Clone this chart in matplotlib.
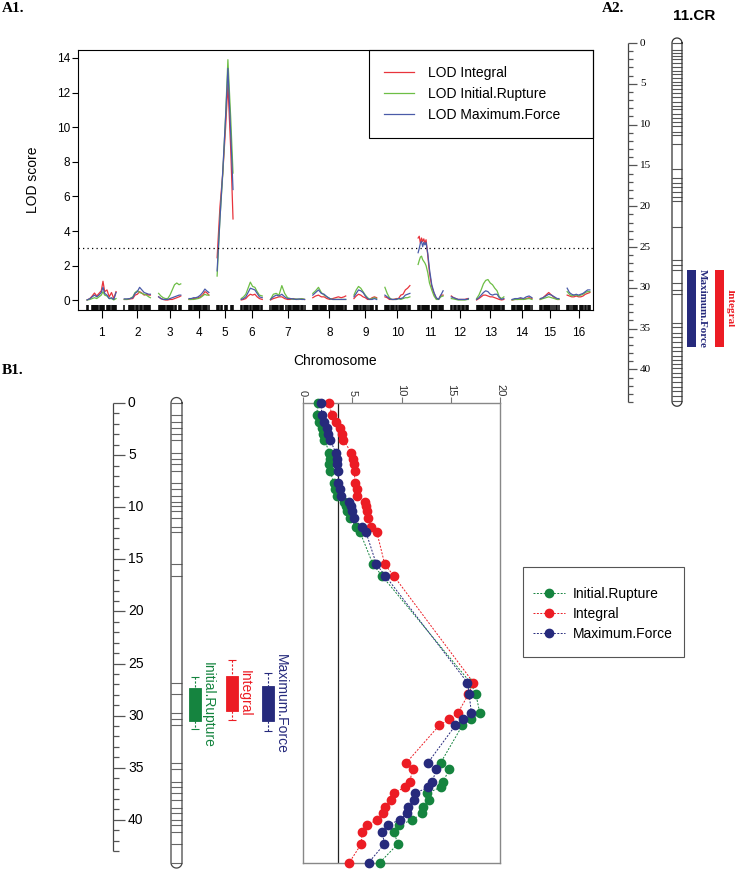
"""QTL figure: genome-wide LOD scan (A1), chromosome 11 QTL map (A2),
and chromosome 11 LOD profile with QTL intervals (B1)."""

import matplotlib

matplotlib.use("Agg")
import matplotlib.pyplot as plt
import numpy as np
from matplotlib.lines import Line2D
from matplotlib.patches import Rectangle

W, H = 735, 869
SANS = "Liberation Sans"
SERIF = "Liberation Serif"

# ---------------- A1: genome scan ----------------
CHROMOSOMES = [str(i) for i in range(1, 17)]
CHROM_LENGTHS = [51, 46, 39, 35, 28, 37, 60, 58, 40, 44, 44, 30, 48, 35, 33, 40]
CHROM_GAP = 14.5
LOD_THRESHOLD = 3.0

SCAN_POS = [
    [0, 5, 9, 13, 17, 21, 25, 28, 31, 35, 39, 43, 47, 51],
    [0, 5, 10, 15, 19, 23, 27, 31, 35, 39, 43, 46],
    [0, 4, 8, 12, 16, 20, 24, 28, 32, 36, 39],
    [0, 4, 8, 12, 16, 20, 24, 28, 31, 35],
    [0, 5, 10, 15, 19, 24, 28],
    [0, 4, 8, 12, 16, 20, 24, 28, 32, 37],
    [0, 5, 10, 15, 20, 25, 30, 35, 40, 45, 50, 55, 60],
    [0, 5, 10, 15, 20, 25, 30, 35, 40, 45, 50, 55, 58],
    [0, 4, 8, 12, 16, 20, 24, 28, 32, 36, 40],
    [0, 4, 8, 12, 16, 20, 24, 28, 32, 36, 40, 44],
    [0, 2, 4, 6, 8, 10, 12, 14, 17, 20, 24, 28, 32, 36, 40, 44],
    [0, 4, 8, 12, 16, 20, 24, 28, 30],
    [0, 4, 8, 12, 16, 20, 24, 28, 32, 36, 40, 44, 48],
    [0, 5, 10, 15, 20, 25, 30, 35],
    [0, 5, 10, 15, 20, 25, 30, 33],
    [0, 4, 8, 12, 16, 20, 24, 28, 32, 36, 40],
]

LOD_INTEGRAL = [
    [0.02, 0.1, 0.25, 0.42, 0.25, 0.4, 0.55, 1.1, 0.5, 0.6, 0.2, 0.45, 0.1, 0.5],
    [0.05, 0.05, 0.08, 0.1, 0.3, 0.35, 0.5, 0.42, 0.3, 0.35, 0.3, 0.3],
    [0.2, 0.1, 0.05, 0.02, 0.02, 0.05, 0.05, 0.1, 0.15, 0.2, 0.25],
    [0.05, 0.05, 0.1, 0.1, 0.15, 0.2, 0.3, 0.5, 0.45, 0.3],
    [2.46, 5.4, 7.35, 10.0, 12.5, 8.7, 4.7],
    [0.02, 0.05, 0.1, 0.25, 0.35, 0.3, 0.35, 0.2, 0.1, 0.05],
    [0.02, 0.1, 0.15, 0.2, 0.2, 0.1, 0.05, 0.05, 0.1, 0.05, 0.05, 0.08, 0.05],
    [0.15, 0.25, 0.3, 0.2, 0.2, 0.1, 0.05, 0.1, 0.15, 0.2, 0.15, 0.2, 0.25],
    [0.1, 0.25, 0.35, 0.3, 0.2, 0.15, 0.05, 0.05, 0.15, 0.2, 0.15],
    [0.2, 0.15, 0.05, 0.05, 0.05, 0.1, 0.1, 0.3, 0.35, 0.6, 0.7, 0.85],
    [3.6, 3.7, 3.3, 3.6, 3.4, 3.55, 3.3, 3.5, 2.6, 1.6, 0.8, 0.4, 0.1, 0.05, 0.3, 0.3],
    [0.25, 0.15, 0.1, 0.05, 0.05, 0.05, 0.05, 0.1, 0.1],
    [0.02, 0.1, 0.2, 0.3, 0.3, 0.25, 0.2, 0.2, 0.15, 0.1, 0.05, 0.02, 0.05],
    [0.02, 0.05, 0.05, 0.1, 0.05, 0.1, 0.15, 0.1],
    [0.05, 0.15, 0.3, 0.45, 0.3, 0.15, 0.05, 0.05],
    [0.3, 0.25, 0.2, 0.2, 0.25, 0.2, 0.2, 0.25, 0.35, 0.4, 0.45],
]

LOD_RUPTURE = [
    [0.02, 0.05, 0.1, 0.15, 0.1, 0.2, 0.3, 0.5, 0.3, 0.25, 0.1, 0.1, 0.02, 0.1],
    [0.05, 0.05, 0.1, 0.2, 0.45, 0.55, 0.45, 0.4, 0.35, 0.3, 0.2, 0.15],
    [0.4, 0.25, 0.15, 0.1, 0.1, 0.3, 0.6, 0.9, 1.0, 0.9, 0.95],
    [0.05, 0.05, 0.05, 0.08, 0.1, 0.15, 0.25, 0.35, 0.3, 0.3],
    [1.4, 4.7, 7.3, 10.7, 13.9, 10.5, 7.35],
    [0.1, 0.2, 0.35, 0.7, 1.05, 0.8, 0.75, 0.5, 0.3, 0.25],
    [0.05, 0.35, 0.4, 0.3, 0.85, 0.4, 0.15, 0.1, 0.05, 0.08, 0.05, 0.1, 0.05],
    [0.4, 0.55, 0.75, 0.45, 0.3, 0.2, 0.1, 0.05, 0.05, 0.05, 0.05, 0.05, 0.05],
    [0.3, 0.6, 0.8, 0.7, 0.5, 0.3, 0.15, 0.05, 0.1, 0.15, 0.1],
    [0.75, 0.4, 0.15, 0.05, 0.05, 0.05, 0.1, 0.05, 0.1, 0.15, 0.15, 0.2],
    [2.07, 2.3, 2.5, 2.55, 2.35, 2.25, 2.15, 2.0, 1.6, 1.0, 0.6, 0.25, 0.05, 0.05, 0.2, 0.25],
    [0.1, 0.08, 0.05, 0.02, 0.02, 0.02, 0.02, 0.05, 0.05],
    [0.1, 0.3, 0.6, 0.95, 1.15, 1.2, 1.0, 0.9, 0.7, 0.55, 0.2, 0.1, 0.2],
    [0.02, 0.05, 0.05, 0.05, 0.05, 0.08, 0.1, 0.05],
    [0.05, 0.1, 0.15, 0.2, 0.15, 0.1, 0.05, 0.05],
    [0.5, 0.35, 0.25, 0.3, 0.3, 0.25, 0.3, 0.35, 0.45, 0.5, 0.5],
]

LOD_FORCE = [
    [0.02, 0.1, 0.2, 0.3, 0.2, 0.3, 0.45, 0.75, 0.4, 0.3, 0.1, 0.15, 0.05, 0.45],
    [0.08, 0.08, 0.1, 0.15, 0.4, 0.5, 0.75, 0.6, 0.45, 0.4, 0.35, 0.35],
    [0.2, 0.1, 0.05, 0.05, 0.05, 0.1, 0.15, 0.2, 0.25, 0.3, 0.3],
    [0.1, 0.1, 0.15, 0.15, 0.2, 0.3, 0.45, 0.65, 0.55, 0.45],
    [1.7, 4.7, 7.5, 10.6, 13.4, 9.6, 6.4],
    [0.05, 0.1, 0.2, 0.45, 0.7, 0.65, 0.6, 0.4, 0.2, 0.15],
    [0.05, 0.2, 0.3, 0.25, 0.35, 0.2, 0.1, 0.1, 0.08, 0.05, 0.08, 0.05, 0.05],
    [0.3, 0.45, 0.6, 0.4, 0.35, 0.2, 0.1, 0.05, 0.05, 0.05, 0.05, 0.05, 0.05],
    [0.2, 0.4, 0.6, 0.55, 0.45, 0.25, 0.1, 0.05, 0.05, 0.1, 0.05],
    [0.3, 0.2, 0.1, 0.05, 0.05, 0.05, 0.1, 0.1, 0.15, 0.3, 0.35, 0.4],
    [2.75, 3.0, 3.3, 3.4, 3.1, 3.35, 3.2, 3.35, 2.7, 1.8, 0.9, 0.45, 0.15, 0.05, 0.3, 0.55],
    [0.2, 0.15, 0.1, 0.05, 0.05, 0.05, 0.05, 0.05, 0.1],
    [0.05, 0.15, 0.3, 0.45, 0.55, 0.5, 0.35, 0.3, 0.35, 0.35, 0.15, 0.05, 0.1],
    [0.05, 0.1, 0.1, 0.15, 0.1, 0.2, 0.25, 0.15],
    [0.1, 0.15, 0.25, 0.35, 0.3, 0.2, 0.1, 0.1],
    [0.7, 0.45, 0.35, 0.3, 0.35, 0.3, 0.35, 0.4, 0.5, 0.6, 0.6],
]

RUG_MARKERS = [
    [0, 2, 8, 10, 12, 14, 16, 18, 20, 22, 24, 26, 28, 30, 35, 37, 39, 41, 43, 45, 47, 49, 51],
    [0, 8, 10, 12, 14, 16, 18, 20, 22, 24, 28, 30, 32, 34, 36, 38, 40, 42, 44, 46],
    [0, 2, 4, 6, 8, 10, 12, 14, 16, 18, 20, 22, 24, 26, 28, 30, 35, 37, 39],
    [0, 2, 4, 6, 8, 10, 12, 14, 16, 18, 20, 22, 24, 26, 28, 30, 32, 35],
    [0, 2, 4, 6, 8, 14, 16, 18, 24, 26, 28],
    [0, 2, 4, 6, 8, 10, 12, 16, 18, 20, 22, 24, 26, 28, 30, 32, 34, 37],
    [0, 2, 4, 6, 8, 10, 12, 14, 16, 18, 20, 22, 27, 30, 33, 35, 37, 39, 41, 43, 45, 47, 49,
     51, 53, 55, 58, 60],
    [0, 2, 4, 6, 8, 10, 12, 14, 16, 18, 20, 22, 24, 28, 30, 32, 34, 36, 38, 40, 42, 44, 46,
     48, 50, 52, 54, 56, 58],
    [0, 2, 4, 6, 8, 10, 12, 16, 18, 20, 22, 24, 28, 30, 32, 34, 38, 40],
    [0, 2, 4, 6, 8, 10, 12, 14, 16, 20, 22, 24, 26, 28, 30, 32, 34, 36, 38, 40, 42, 44],
    [0, 2, 4, 6, 8, 10, 12, 14, 16, 18, 20, 24, 26, 28, 30, 32, 34, 36, 38, 40, 42, 44],
    [0, 2, 4, 6, 8, 12, 14, 16, 18, 20, 22, 26, 28, 30],
    [0, 2, 4, 6, 8, 10, 12, 14, 16, 18, 20, 22, 24, 26, 28, 30, 32, 34, 36, 38, 40, 42, 44,
     46, 48],
    [0, 2, 4, 6, 8, 10, 12, 14, 16, 18, 22, 24, 26, 28, 30, 32, 35],
    [0, 2, 4, 6, 8, 10, 12, 14, 16, 18, 20, 24, 28, 30, 33],
    [0, 2, 4, 6, 10, 12, 14, 16, 18, 22, 24, 26, 28, 32, 34, 36, 38, 40],
]

SCAN_TRAITS = ["LOD Integral", "LOD Initial.Rupture", "LOD Maximum.Force"]
SCAN_COLORS = ["#E8343C", "#6DBE45", "#4A5BA8"]

# ---------------- A2: chromosome 11 map ----------------
A2_TITLE = "11.CR"
A2_MARKERS = [0.0, 0.86, 1.27, 1.59, 2.0, 2.41, 2.9, 3.39, 3.8, 4.25, 4.74, 5.15, 5.68,
              6.17, 6.66, 7.19, 7.68, 8.13, 8.7, 9.23, 9.64, 10.17, 10.87, 11.28, 12.38,
              15.49, 16.6, 17.1, 17.7, 18.3, 18.9, 19.4, 22.5, 26.6, 27.2, 27.8, 29.45,
              30.27, 30.7, 34.3, 34.85, 35.5, 36.0, 36.7, 37.2, 37.8, 38.36, 38.85, 39.34,
              39.87, 40.4, 40.9, 41.5, 42.1, 42.7, 43.3, 43.9]
A2_QTL = ["Maximum.Force", "Integral"]
A2_QTL_LOW = [27.8, 27.8]
A2_QTL_HIGH = [37.3, 37.3]
A2_COLORS = ["#262A7C", "#EC1C24"]

# ---------------- B1: chromosome 11 profile ----------------
B1_MARKERS = [0.0, 1.15, 1.79, 2.37, 2.98, 3.55, 4.77, 5.41, 5.85, 6.49, 7.65, 8.28, 8.89,
              9.47, 9.85, 10.36, 11.07, 11.93, 12.41, 15.48, 16.6, 26.84, 27.96, 29.78,
              30.36, 30.93, 34.52, 35.15, 36.34, 36.88, 37.46, 38.1, 38.82, 39.38, 40.02,
              40.5, 41.14, 42.32, 44.1]
B1_LOD_RUPTURE = [1.5, 1.4, 1.63, 1.9, 2.07, 2.18, 2.69, 2.76, 2.65, 2.76, 3.1, 3.2, 3.44,
                  4.2, 4.35, 4.5, 4.75, 5.4, 5.8, 7.1, 8.03, 17.0, 17.55, 17.96, 17.1, 16.19,
                  13.98, 14.86, 14.22, 13.98, 12.55, 12.76, 12.18, 12.11, 11.09, 9.76, 9.22,
                  9.63, 7.8]
B1_LOD_INTEGRAL = [2.65, 2.93, 3.33, 3.78, 4.0, 4.1, 4.9, 5.03, 5.14, 5.24, 5.24, 5.48, 5.48,
                   6.26, 6.4, 6.5, 6.6, 6.94, 7.5, 8.3, 9.22, 17.3, 16.8, 15.7, 14.86, 13.84,
                   10.5, 11.16, 10.82, 10.31, 9.22, 8.95, 8.3, 8.13, 7.52, 6.5, 5.99, 5.92,
                   4.7]
B1_LOD_FORCE = [1.84, 1.9, 2.18, 2.42, 2.58, 2.76, 3.33, 3.44, 3.44, 3.54, 3.6, 3.78, 3.88,
                4.63, 4.9, 5.0, 5.14, 6.0, 6.4, 7.45, 8.37, 16.7, 16.87, 17.1, 16.29, 15.48,
                12.69, 13.54, 13.13, 12.72, 11.36, 11.29, 10.68, 10.58, 9.8, 8.61, 8.03,
                8.27, 6.67]
B1_THRESHOLD = 3.6
B1_TRAITS = ["Initial.Rupture", "Integral", "Maximum.Force"]
B1_COLORS = ["#15843F", "#EC1C24", "#262A7C"]
B1_WHISKER_LOW = [26.33, 24.66, 25.88]
B1_BOX_LOW = [27.38, 26.17, 27.16]
B1_BOX_HIGH = [30.49, 29.53, 30.52]
B1_WHISKER_HIGH = [31.29, 30.42, 31.48]

plt.rcParams["font.family"] = SANS


def px_axes(fig, x0, y0, x1, y1):
    """Add axes given by a pixel box (origin at top-left of the figure)."""
    return fig.add_axes([x0 / W, 1 - y1 / H, (x1 - x0) / W, (y1 - y0) / H])


def draw_chromosome(ax, x0, x1, length, px_per_cm, markers, edge, marker_color):
    r = (x1 - x0) / 2
    cx = (x0 + x1) / 2
    t = np.linspace(0, np.pi, 40)
    top_x = cx + r * np.cos(t)
    top_y = -r / px_per_cm * np.sin(t)
    bot_x = cx - r * np.cos(t)
    bot_y = length + r / px_per_cm * np.sin(t)
    xs = np.concatenate([top_x, bot_x, [top_x[0]]])
    ys = np.concatenate([top_y, bot_y, [top_y[0]]])
    ax.hlines(markers, x0, x1, color=marker_color, lw=0.8)
    ax.plot(xs, ys, color=edge, lw=0.9)


def draw_ruler(ax, x, n_cm, label_every, major_len, minor_len, label_dx, **text_kw):
    ax.vlines(x, 0, n_cm, color="#444444", lw=0.9)
    for cm in range(n_cm + 1):
        major = cm % label_every == 0
        ax.hlines(cm, x, x + (major_len if major else minor_len), color="#555555", lw=0.9)
        if major and cm <= 40:
            ax.text(x + label_dx, cm, str(cm), ha="left", va="center", **text_kw)


def main() -> None:
    fig = plt.figure(figsize=(W / 100, H / 100), dpi=100)

    # ---- A1 ----
    ax = px_axes(fig, 78, 50, 593, 310)
    offsets = np.concatenate([[0], np.cumsum(np.array(CHROM_LENGTHS[:-1]) + CHROM_GAP)])
    series = [LOD_INTEGRAL, LOD_RUPTURE, LOD_FORCE]
    handles = []
    for lods, label, color in zip(series, SCAN_TRAITS, SCAN_COLORS):
        for c in range(len(CHROMOSOMES)):
            ax.plot(offsets[c] + np.array(SCAN_POS[c]), lods[c], color=color, lw=0.9)
        handles.append(Line2D([], [], color=color, lw=0.9, label=label))
    for c in range(len(CHROMOSOMES)):
        ax.vlines(offsets[c] + np.array(RUG_MARKERS[c]), -0.56, -0.27, color="black", lw=1.1)
    ax.axhline(LOD_THRESHOLD, color="black", lw=0.9, ls=(0, (1, 2.6)))
    ax.set_xlim(-16, 891)
    ax.set_ylim(-0.56, 14.46)
    ax.set_xticks(offsets + np.array(CHROM_LENGTHS) / 2, CHROMOSOMES)
    ax.set_yticks(range(0, 15, 2))
    ax.tick_params(axis="x", length=5.8, pad=6.5, labelsize=8.5, width=0.8)
    ax.tick_params(axis="y", length=4.3, pad=1.5, labelsize=8.5, width=0.8)
    for spine in ax.spines.values():
        spine.set_linewidth(0.8)

    # ---- A2 ----
    a2 = px_axes(fig, 600, 0, 735, 420)
    a2.set_xlim(600, 735)
    a2.set_ylim(46.2, -5.27)
    a2.axis("off")
    draw_ruler(a2, 628, 44, 5, 9, 5, 12, family=SERIF, fontsize=8)
    draw_chromosome(a2, 672, 682, 43.9, 8.16, A2_MARKERS, "#333333", "#555555")
    for (x0, lx), name, lo, hi, color in zip([(687, 702), (715, 730)], A2_QTL,
                                            A2_QTL_LOW, A2_QTL_HIGH, A2_COLORS):
        a2.add_patch(Rectangle((x0, lo), 9, hi - lo, color=color, lw=0))
        a2.text(lx, (lo + hi) / 2, name, rotation=-90, ha="center", va="center",
                color=color, family=SERIF, fontweight="bold", fontsize=8)

    # ---- B1 left: map + intervals ----
    b1 = px_axes(fig, 100, 380, 300, 869)
    b1.set_xlim(100, 300)
    b1.set_ylim(44.72, -2.21)
    b1.axis("off")
    draw_ruler(b1, 113, 43, 5, 12, 6, 15, fontsize=10)
    draw_chromosome(b1, 171, 182, 44.1, 10.42, B1_MARKERS, "#444444", "#666666")
    for cx, lx, name, color, wl, bl, bh, wh in zip(
            [195, 231.5, 267.5], [208, 245, 281], B1_TRAITS, B1_COLORS,
            B1_WHISKER_LOW, B1_BOX_LOW, B1_BOX_HIGH, B1_WHISKER_HIGH):
        b1.vlines(cx, wl, bl, color=color, lw=0.8, ls=(0, (2, 1.5)))
        b1.vlines(cx, bh, wh, color=color, lw=0.8, ls=(0, (2, 1.5)))
        b1.hlines([wl, wh], cx - 4, cx + 4, color=color, lw=0.8)
        b1.add_patch(Rectangle((cx - 6, bl), 12, bh - bl, facecolor=color,
                               edgecolor=color, lw=0.6))
        b1.text(lx, (bl + bh) / 2, name, rotation=-90, ha="center", va="center",
                color=color, fontsize=10)

    # ---- B1 right: LOD profile ----
    prof = px_axes(fig, 303, 403, 500, 862.5)
    b1_series = [B1_LOD_RUPTURE, B1_LOD_INTEGRAL, B1_LOD_FORCE]
    b1_handles = []
    for lods, name, color in zip(b1_series, B1_TRAITS, B1_COLORS):
        prof.plot(lods, B1_MARKERS, color=color, lw=0.7, ls=(0, (2, 1.5)), marker="o",
                  ms=6, mec=color, mfc=color, clip_on=False, zorder=3)
        b1_handles.append(Line2D([], [], color=color, lw=0.7, ls=(0, (2, 1.5)),
                                 marker="o", ms=6, label=name))
    prof.axvline(B1_THRESHOLD, color="#222222", lw=0.9)
    prof.set_xlim(0, 20)
    prof.set_ylim(44.1, 0)
    prof.xaxis.tick_top()
    prof.set_xticks([0, 5, 10, 15, 20])
    prof.set_yticks([])
    prof.tick_params(axis="x", labelrotation=-90, length=4, pad=1, labelsize=8,
                     color="#777777", labelcolor="#333333")
    for spine in prof.spines.values():
        spine.set_color("#888888")
        spine.set_linewidth(1.0)

    # ---- overlay: labels, legends ----
    ov = fig.add_axes([0, 0, 1, 1], zorder=10)
    ov.set_xlim(0, W)
    ov.set_ylim(H, 0)
    ov.axis("off")
    ov.patch.set_alpha(0)

    ov.text(2, 8, "A1.", family=SERIF, fontweight="bold", fontsize=11, va="center")
    ov.text(602, 8, "A2.", family=SERIF, fontweight="bold", fontsize=11, va="center")
    ov.text(2, 371, "B1.", family=SERIF, fontweight="bold", fontsize=11, va="center")
    ov.text(694, 16, A2_TITLE, fontweight="bold", fontsize=11, ha="center", va="center")
    ov.text(33, 180, "LOD score", rotation=90, fontsize=10, ha="center", va="center")
    ov.text(335, 361, "Chromosome", fontsize=10, ha="center", va="center")

    ov.add_patch(Rectangle((369, 50), 224, 88, fill=False, ec="black", lw=0.8))
    leg = ov.legend(handles=handles, loc="center left", bbox_to_anchor=(384, 94),
                    bbox_transform=ov.transData, frameon=False, borderpad=0,
                    borderaxespad=0, handlelength=2.16, handletextpad=1.0,
                    labelspacing=0.5, fontsize=10)
    ov.add_artist(leg)

    ov.add_patch(Rectangle((523, 567), 161, 90, fill=False, ec="#555555", lw=0.8))
    ov.legend(handles=b1_handles, loc="center left", bbox_to_anchor=(533, 614),
              bbox_transform=ov.transData, frameon=False, borderpad=0,
              borderaxespad=0, handlelength=2.3, handletextpad=0.55,
              labelspacing=0.45, fontsize=10)

    fig.savefig("out.png", dpi=100)
    plt.close(fig)


if __name__ == "__main__":
    main()
